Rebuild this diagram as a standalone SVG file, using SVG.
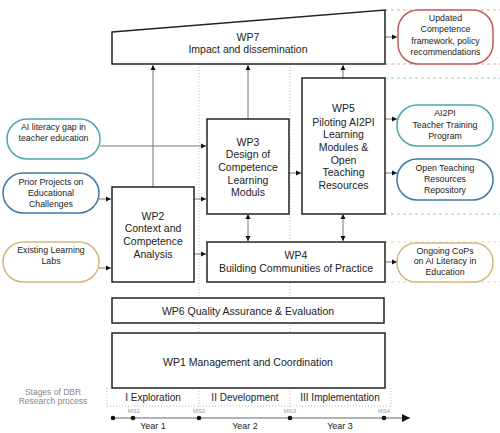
<svg xmlns="http://www.w3.org/2000/svg" width="500" height="433" viewBox="0 0 500 433">
<defs>
<marker id="ah" markerWidth="6" markerHeight="6" refX="5" refY="3" orient="auto" markerUnits="userSpaceOnUse">
<path d="M0,0.5 L5,3 L0,5.5 Z" fill="#111"/>
</marker>
<marker id="ahs" markerWidth="6" markerHeight="6" refX="1" refY="3" orient="auto" markerUnits="userSpaceOnUse">
<path d="M5,0.5 L0,3 L5,5.5 Z" fill="#111"/>
</marker>
<marker id="ahb" markerWidth="10" markerHeight="10" refX="8" refY="4" orient="auto" markerUnits="userSpaceOnUse">
<path d="M0,0 L8,4 L0,8 Z" fill="#111"/>
</marker>
<style>
.wp{fill:#fff;stroke:#222;stroke-width:1.5}
.t{font-family:"Liberation Sans",Arial,sans-serif;font-size:10.5px;fill:#222;text-anchor:middle}
.o{font-family:"Liberation Sans",Arial,sans-serif;font-size:8.8px;fill:#222;text-anchor:middle}
.s{font-family:"Liberation Sans",Arial,sans-serif;font-size:10px;fill:#222;text-anchor:middle}
.g{font-family:"Liberation Sans",Arial,sans-serif;font-size:8.5px;fill:#888;text-anchor:middle}
.ms{font-family:"Liberation Sans",Arial,sans-serif;font-size:6px;fill:#999;text-anchor:middle}
.y{font-family:"Liberation Sans",Arial,sans-serif;font-size:9px;fill:#222;text-anchor:middle}
.c{fill:none;stroke:#777;stroke-width:1}
.dot{fill:none;stroke:#bbb;stroke-width:1;stroke-dasharray:1 2}
.teal{fill:#fff;stroke:#4aa8aa;stroke-width:1.5}
.blue{fill:#fff;stroke:#3d79a6;stroke-width:1.5}
.tan{fill:#fff;stroke:#d6b57c;stroke-width:1.5}
.red{fill:#fff;stroke:#c05a57;stroke-width:1.5}
.dteal{stroke:#8fd0d6;stroke-width:1;stroke-dasharray:3 3}
.dred{stroke:#e4a3a0;stroke-width:1;stroke-dasharray:3 3}
.dtan{stroke:#e7d2ae;stroke-width:1;stroke-dasharray:3 3}
</style>
</defs>

<g id="guides">
<line class="dot" x1="199" y1="64" x2="199" y2="407"/>
<line class="dot" x1="290" y1="64" x2="290" y2="407"/>
<line class="dot" x1="107" y1="388" x2="107" y2="407"/>
<line class="dot" x1="391" y1="388" x2="391" y2="407"/>
<line class="dot" x1="107" y1="406" x2="391" y2="406"/>
<line class="dred" x1="385" y1="10" x2="500" y2="10"/>
<line class="dred" x1="385" y1="64" x2="500" y2="64"/>
<line class="dteal" x1="385" y1="78" x2="500" y2="78"/>
<line class="dteal" x1="385" y1="214" x2="500" y2="214"/>
<line class="dtan" x1="385" y1="242" x2="500" y2="242"/>
<line class="dtan" x1="385" y1="282" x2="500" y2="282"/>
</g>

<g id="connectors">
<line class="c" x1="153" y1="187" x2="153" y2="65" marker-end="url(#ah)"/>
<line class="c" x1="248" y1="119" x2="248" y2="65" marker-end="url(#ah)"/>
<line class="c" x1="343" y1="78" x2="343" y2="65" marker-end="url(#ah)"/>
<line class="c" x1="385" y1="37" x2="397" y2="37" marker-end="url(#ah)"/>
<line class="c" x1="100" y1="146" x2="206" y2="146" marker-end="url(#ah)"/>
<line class="c" x1="99" y1="199" x2="111" y2="199" marker-end="url(#ah)"/>
<line class="c" x1="99" y1="268" x2="111" y2="268" marker-end="url(#ah)"/>
<line class="c" x1="194" y1="199" x2="206" y2="199" marker-end="url(#ah)"/>
<line class="c" x1="194" y1="254" x2="206" y2="254" marker-end="url(#ah)"/>
<line class="c" x1="289" y1="173" x2="301" y2="173" marker-end="url(#ah)"/>
<line class="c" x1="248" y1="215" x2="248" y2="241" marker-start="url(#ahs)" marker-end="url(#ah)"/>
<line class="c" x1="343" y1="215" x2="343" y2="241" marker-start="url(#ahs)" marker-end="url(#ah)"/>
<line class="c" x1="385" y1="119" x2="397" y2="119" marker-end="url(#ah)"/>
<line class="c" x1="385" y1="173" x2="397" y2="173" marker-end="url(#ah)"/>
<line class="c" x1="385" y1="262" x2="397" y2="262" marker-end="url(#ah)"/>
</g>

<g id="wp7">
<polygon class="wp" points="112,32 385,10 385,64 112,64"/>
<text class="t" x="248" y="41">WP7</text>
<text class="t" x="248" y="53">Impact and dissemination</text>
</g>

<g id="out-updated">
<rect class="red" x="398" y="10" width="95" height="54" rx="20"/>
<text class="o" x="445.5" y="21">Updated</text>
<text class="o" x="445.5" y="32">Competence</text>
<text class="o" x="445.5" y="44">framework, policy</text>
<text class="o" x="445.5" y="55">recommendations</text>
</g>

<g id="in-gap">
<rect class="teal" x="7" y="119" width="93" height="40" rx="20"/>
<text class="o" x="53.5" y="130">AI literacy gap in</text>
<text class="o" x="53.5" y="141">teacher education</text>
</g>

<g id="in-prior">
<rect class="blue" x="3" y="173" width="96" height="40" rx="20"/>
<text class="o" x="51" y="185">Prior Projects on</text>
<text class="o" x="51" y="196">Educational</text>
<text class="o" x="51" y="207">Challenges</text>
</g>

<g id="in-labs">
<rect class="tan" x="3" y="242" width="96" height="40" rx="20"/>
<text class="o" x="51" y="253">Existing Learning</text>
<text class="o" x="51" y="264">Labs</text>
</g>

<g id="wp2">
<rect class="wp" x="112" y="187" width="82" height="95"/>
<text class="t" x="153" y="220">WP2</text>
<text class="t" x="153" y="232">Context and</text>
<text class="t" x="153" y="245">Competence</text>
<text class="t" x="153" y="258">Analysis</text>
</g>

<g id="wp3">
<rect class="wp" x="207" y="119" width="82" height="95"/>
<text class="t" x="248" y="146">WP3</text>
<text class="t" x="248" y="158">Design of</text>
<text class="t" x="248" y="171">Competence</text>
<text class="t" x="248" y="184">Learning</text>
<text class="t" x="248" y="196">Moduls</text>
</g>

<g id="wp5">
<rect class="wp" x="302" y="78" width="83" height="136"/>
<text class="t" x="343.5" y="112">WP5</text>
<text class="t" x="343.5" y="126">Piloting AI2PI</text>
<text class="t" x="343.5" y="138">Learning</text>
<text class="t" x="343.5" y="151">Modules &amp;</text>
<text class="t" x="343.5" y="164">Open</text>
<text class="t" x="343.5" y="176">Teaching</text>
<text class="t" x="343.5" y="189">Resources</text>
</g>

<g id="out-training">
<rect class="teal" x="397" y="105" width="96" height="41" rx="20"/>
<text class="o" x="445" y="116">AI2PI</text>
<text class="o" x="445" y="128">Teacher Training</text>
<text class="o" x="445" y="139">Program</text>
</g>

<g id="out-repo">
<rect class="blue" x="397" y="159" width="96" height="41" rx="20"/>
<text class="o" x="445" y="171">Open Teaching</text>
<text class="o" x="445" y="182">Resources</text>
<text class="o" x="445" y="193">Repository</text>
</g>

<g id="wp4">
<rect class="wp" x="207" y="242" width="178" height="40"/>
<text class="t" x="296" y="259">WP4</text>
<text class="t" x="296" y="272">Building Communities of Practice</text>
</g>

<g id="out-cops">
<rect class="tan" x="397" y="243" width="96" height="39" rx="19"/>
<text class="o" x="445" y="254">Ongoing CoPs</text>
<text class="o" x="445" y="264">on AI Literacy in</text>
<text class="o" x="445" y="275">Education</text>
</g>

<g id="wp6">
<rect class="wp" x="112" y="298" width="272" height="25"/>
<text class="t" x="248" y="315">WP6 Quality Assurance &amp; Evaluation</text>
</g>

<g id="wp1">
<rect class="wp" x="112" y="333" width="273" height="55"/>
<text class="t" x="248" y="366">WP1 Management and Coordination</text>
</g>

<g id="stages">
<text class="g" x="53" y="395">Stages of DBR</text>
<text class="g" x="53" y="404">Research process</text>
<text class="s" x="153" y="401">I Exploration</text>
<text class="s" x="245" y="401">II Development</text>
<text class="s" x="340" y="401">III Implementation</text>
</g>

<g id="timeline">
<line x1="113" y1="418" x2="410" y2="418" stroke="#666" stroke-width="1" marker-end="url(#ahb)"/>
<circle cx="113" cy="418" r="2.3" fill="#111"/>
<circle cx="133" cy="418" r="2.3" fill="#111"/>
<circle cx="199" cy="418" r="2.3" fill="#111"/>
<circle cx="290" cy="418" r="2.3" fill="#111"/>
<circle cx="384" cy="418" r="2.3" fill="#111"/>
<text class="ms" x="134" y="413">MS1</text>
<text class="ms" x="199" y="413">MS2</text>
<text class="ms" x="290" y="413">MS3</text>
<text class="ms" x="384" y="413">MS4</text>
<text class="y" x="153" y="429">Year 1</text>
<text class="y" x="245" y="429">Year 2</text>
<text class="y" x="340" y="429">Year 3</text>
</g>
</svg>
